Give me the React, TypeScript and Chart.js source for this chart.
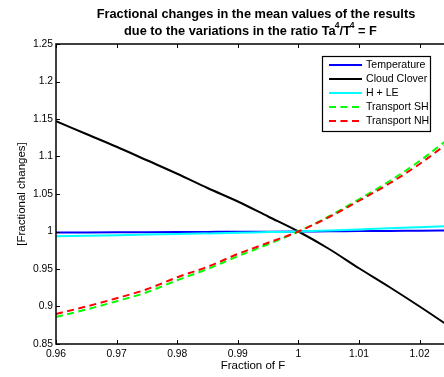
import React, { useEffect, useRef } from "react";
import { Chart, registerables } from "chart.js";

Chart.register(...registerables);

// ---- data ----
const fractionF = [0.96, 0.965, 0.97, 0.975, 0.98, 0.985, 0.99, 0.995, 1.0, 1.005, 1.01, 1.015, 1.02, 1.025];
const temperature = [0.9985, 0.9987, 0.9989, 0.9991, 0.9993, 0.9995, 0.9997, 0.9998, 1.0, 1.0003, 1.0005, 1.0008, 1.001, 1.0013];
const cloudClover = [1.147, 1.13, 1.113, 1.095, 1.077, 1.058, 1.04, 1.02, 1.0, 0.977, 0.951, 0.926, 0.9, 0.873];
const hPlusLE = [0.9935, 0.9943, 0.9951, 0.9959, 0.9967, 0.9975, 0.9983, 0.9992, 1.0, 1.0014, 1.0028, 1.0042, 1.0057, 1.0072];
const transportSH = [0.886, 0.896, 0.907, 0.919, 0.935, 0.95, 0.967, 0.983, 1.0, 1.02, 1.043, 1.067, 1.094, 1.125];
const transportNH = [0.89, 0.9, 0.911, 0.923, 0.939, 0.953, 0.97, 0.985, 1.0, 1.019, 1.041, 1.064, 1.09, 1.12];

const seriesLabels = ["Temperature", "Cloud Clover", "H + LE", "Transport SH", "Transport NH"];
const seriesColors = ["#0000ff", "#000000", "#00ffff", "#00ff00", "#ff0000"];
const seriesDashed = [false, false, false, true, true];

const xTickValues = [0.96, 0.97, 0.98, 0.99, 1, 1.01, 1.02];
const yTickValues = [0.85, 0.9, 0.95, 1, 1.05, 1.1, 1.15, 1.2, 1.25];

const titleLine1 = "Fractional changes in the mean values of the results";
const titleLine2Parts: { text: string; sup: boolean }[] = [
  { text: "due to the variations in the ratio Ta", sup: false },
  { text: "4", sup: true },
  { text: "/T", sup: false },
  { text: "4", sup: true },
  { text: " = F", sup: false },
];
const xAxisTitle = "Fraction of F";
const yAxisTitle = "[Fractional changes]";

const FONT = "'Liberation Sans', Arial, Helvetica, sans-serif";

const matlabPlugin = {
  id: "matlabDecor",
  afterDatasetsDraw(chart: any) {
    const ctx = chart.ctx as CanvasRenderingContext2D;
    const { left, right, top, bottom } = chart.chartArea;
    const xs = chart.scales.x;
    const ys = chart.scales.y;
    ctx.save();
    // frame
    ctx.strokeStyle = "#000";
    ctx.lineWidth = 1.5;
    ctx.strokeRect(left, top, right - left, bottom - top);
    // inward ticks
    ctx.lineWidth = 1;
    const tl = 4;
    ctx.beginPath();
    xTickValues.forEach((v) => {
      const px = Math.round(xs.getPixelForValue(v)) + 0.5;
      ctx.moveTo(px, bottom);
      ctx.lineTo(px, bottom - tl);
      ctx.moveTo(px, top);
      ctx.lineTo(px, top + tl);
    });
    yTickValues.forEach((v) => {
      const py = Math.round(ys.getPixelForValue(v)) + 0.5;
      ctx.moveTo(left, py);
      ctx.lineTo(left + tl, py);
      ctx.moveTo(right, py);
      ctx.lineTo(right - tl, py);
    });
    ctx.stroke();

    // legend
    const lx = 322, ly = 56, lw = 108, lh = 75;
    ctx.fillStyle = "#fff";
    ctx.fillRect(lx, ly, lw, lh);
    ctx.lineWidth = 1.2;
    ctx.strokeStyle = "#000";
    ctx.strokeRect(lx + 0.5, ly + 0.5, lw, lh);
    ctx.font = `10.6px ${FONT}`;
    ctx.textBaseline = "middle";
    ctx.textAlign = "left";
    chart.data.datasets.forEach((ds: any, i: number) => {
      const y = ly + 9 + i * 14;
      ctx.beginPath();
      ctx.strokeStyle = ds.borderColor;
      ctx.lineWidth = 2;
      ctx.setLineDash(ds.borderDash || []);
      ctx.moveTo(329, y);
      ctx.lineTo(362, y);
      ctx.stroke();
      ctx.setLineDash([]);
      ctx.fillStyle = "#000";
      ctx.fillText(ds.label, 366, y + 0.5);
    });
    ctx.restore();
  },
  afterDraw(chart: any) {
    const ctx = chart.ctx as CanvasRenderingContext2D;
    const { left, right, top, bottom } = chart.chartArea;
    const cx = (left + right) / 2;
    ctx.save();
    ctx.fillStyle = "#000";
    ctx.textBaseline = "middle";
    // title line 1
    ctx.font = `bold 12.8px ${FONT}`;
    ctx.textAlign = "center";
    ctx.fillText(titleLine1, cx, 14);
    // title line 2 with superscripts
    ctx.textAlign = "left";
    let x = cx - 132;
    titleLine2Parts.forEach((p) => {
      if (p.sup) {
        ctx.font = `bold 8.5px ${FONT}`;
        ctx.fillText(p.text, x - 1, 26);
        x += ctx.measureText(p.text).width - 1;
      } else {
        ctx.font = `bold 12.8px ${FONT}`;
        ctx.fillText(p.text, x, 31);
        x += ctx.measureText(p.text).width;
      }
    });
    // x axis title
    ctx.font = `11.5px ${FONT}`;
    ctx.textAlign = "center";
    ctx.fillText(xAxisTitle, 253, bottom + 22);
    // y axis title
    ctx.translate(22, (top + bottom) / 2);
    ctx.rotate(-Math.PI / 2);
    ctx.fillText(yAxisTitle, 0, 0);
    ctx.restore();
  },
};

export default function App() {
  const canvasRef = useRef<HTMLCanvasElement | null>(null);

  useEffect(() => {
    if (!canvasRef.current) return;
    const datasets = seriesLabels.map((label, i) => {
      const vals = [temperature, cloudClover, hPlusLE, transportSH, transportNH][i];
      return {
        label,
        data: fractionF.map((f, j) => ({ x: f, y: vals[j] })),
        borderColor: seriesColors[i],
        backgroundColor: seriesColors[i],
        borderWidth: 2,
        borderDash: seriesDashed[i] ? [7, 4.5] : [],
        pointRadius: 0,
        cubicInterpolationMode: "monotone" as const,
        fill: false,
        order: seriesLabels.length - i,
      };
    });
    const chart = new Chart(canvasRef.current, {
      type: "line",
      data: { datasets },
      options: {
        animation: false,
        responsive: false,
        devicePixelRatio: 1,
        layout: { padding: { top: 44, right: 14, left: 0, bottom: 0 } },
        plugins: {
          legend: { display: false },
          title: { display: false },
          tooltip: { enabled: false },
        },
        scales: {
          x: {
            type: "linear",
            min: 0.96,
            max: 1.026,
            grid: { display: false, drawTicks: false },
            border: { display: false },
            afterBuildTicks: (s: any) => {
              s.ticks = xTickValues.map((v) => ({ value: v }));
            },
            afterFit: (s: any) => {
              s.height = 33;
            },
            ticks: {
              color: "#000",
              padding: 4,
              maxRotation: 0,
              autoSkip: false,
              font: { family: FONT, size: 10.3 },
              callback: (v: any) => String(v),
            },
          },
          y: {
            type: "linear",
            min: 0.85,
            max: 1.25,
            grid: { display: false, drawTicks: false },
            border: { display: false },
            afterBuildTicks: (s: any) => {
              s.ticks = yTickValues.map((v) => ({ value: v }));
            },
            afterFit: (s: any) => {
              s.width = 56;
            },
            ticks: {
              color: "#000",
              padding: 3,
              autoSkip: false,
              font: { family: FONT, size: 10.3 },
              callback: (v: any) => String(v),
            },
          },
        },
      },
      plugins: [matlabPlugin],
    });
    return () => chart.destroy();
  }, []);

  return (
    <div
      style={{
        position: "fixed",
        left: 0,
        top: 0,
        width: 444,
        height: 377,
        overflow: "hidden",
        background: "#fff",
      }}
    >
      <canvas ref={canvasRef} width={470} height={377} style={{ width: 470, height: 377, display: "block" }} />
    </div>
  );
}
